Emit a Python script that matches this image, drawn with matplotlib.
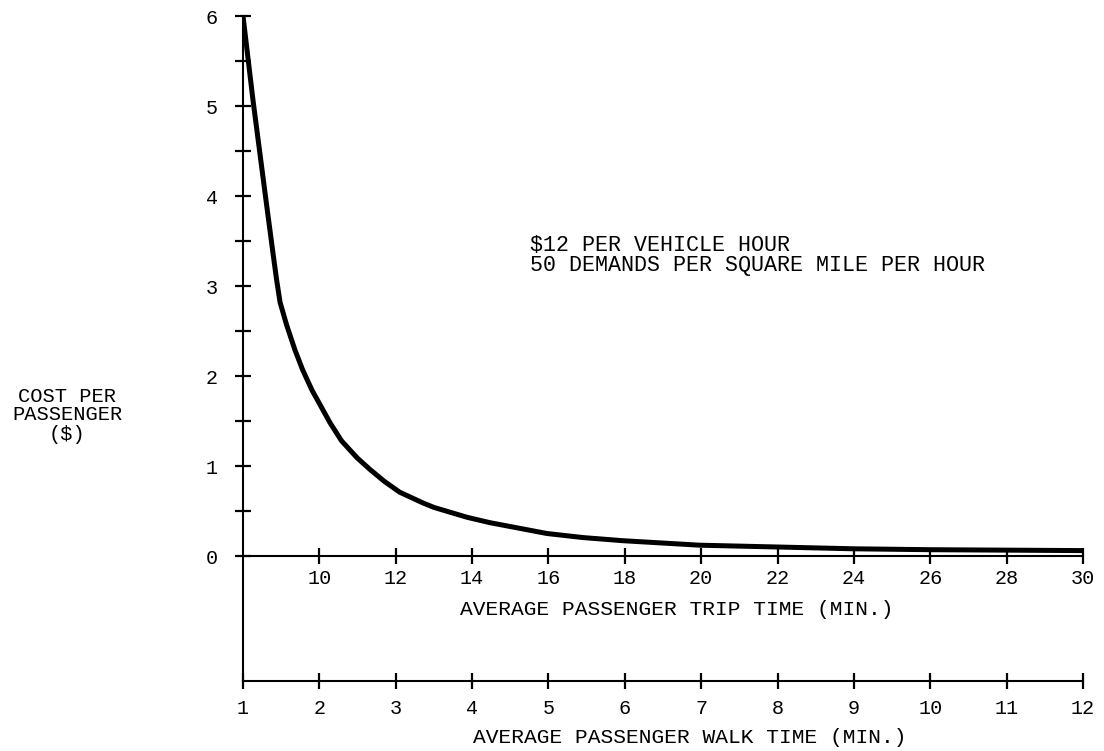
import numpy as np
import matplotlib
matplotlib.use('Agg')
import matplotlib.pyplot as plt

### Cost per passenger against average trip time
trip_time = [8.0, 8.26, 8.60, 8.79, 8.88, 8.97, 9.14, 9.36, 9.56, 9.81, 10.28,
             10.58, 10.99, 11.33, 11.7, 12.1, 12.71, 13.0, 13.87, 14.47,
             15.96, 16.9, 17.95, 19.96, 22.0, 24.0, 26.0, 28.0, 30.0]
cost = [6.0, 5.07, 3.96, 3.35, 3.07, 2.82, 2.57, 2.29, 2.07, 1.84, 1.48,
        1.28, 1.09, 0.96, 0.83, 0.71, 0.59, 0.54, 0.43, 0.37,
        0.25, 0.205, 0.17, 0.12, 0.10, 0.08, 0.07, 0.065, 0.06]

trip_ticks = [10, 12, 14, 16, 18, 20, 22, 24, 26, 28, 30]
walk_ticks = [1, 2, 3, 4, 5, 6, 7, 8, 9, 10, 11, 12]
cost_ticks = [0, 1, 2, 3, 4, 5, 6]
cost_minor = [0.5, 1.5, 2.5, 3.5, 4.5, 5.5]

notes = ['$12 PER VEHICLE HOUR', '50 DEMANDS PER SQUARE MILE PER HOUR']

# walk time and trip time share the same horizontal scale
def trip_to_walk(t):
    return (np.asarray(t) - 6.0) / 2.0

def walk_to_trip(w):
    return 2.0 * np.asarray(w) + 6.0

plt.rcParams['font.family'] = ['Liberation Mono', 'DejaVu Sans Mono']

fig = plt.figure(figsize=(11.04, 7.51), dpi=100)
ax = fig.add_axes([243/1104, 1 - 681/751, 840/1104, 665/751])

ymin = -125/90.0
ax.set_xlim(8, 30)
ax.set_ylim(ymin, 6)

ax.plot(trip_time, cost, color='black', lw=3.6, solid_joinstyle='round',
        solid_capstyle='butt')

### Axes lines
for s in ['top', 'right']:
    ax.spines[s].set_visible(False)
ax.spines['left'].set_bounds(ymin, 6)
ax.spines['left'].set_linewidth(1.5)
ax.spines['bottom'].set_position(('data', 0))
ax.spines['bottom'].set_linewidth(1.5)

ax.set_yticks(cost_ticks)
ax.set_yticks(cost_minor, minor=True)
ax.tick_params(axis='y', which='both', direction='inout', length=12, width=1.6,
               labelsize=14.5, pad=12)
ax.tick_params(axis='y', which='minor', length=11)

ax.set_xticks(trip_ticks)
ax.tick_params(axis='x', direction='inout', length=11, width=1.6,
               labelsize=14.5, pad=4)

sec = ax.secondary_xaxis('bottom', functions=(trip_to_walk, walk_to_trip))
sec.set_xticks(walk_ticks)
sec.spines['bottom'].set_linewidth(1.5)
sec.tick_params(axis='x', direction='inout', length=11, width=1.6,
                labelsize=14.5, pad=7.5)

### Axis titles
ax.set_xlabel('AVERAGE PASSENGER TRIP TIME (MIN.)', fontsize=15.3)
ax.xaxis.set_label_coords(0.5167, 0.122)
sec.set_xlabel('AVERAGE PASSENGER WALK TIME (MIN.)', fontsize=15.3)
sec.xaxis.set_label_coords(0.532, -0.070, transform=ax.transAxes)

ax.set_ylabel('COST PER\nPASSENGER\n($)', fontsize=14.7, rotation=0,
              ha='center', va='center', multialignment='center', linespacing=1.0)
ax.yaxis.set_label_coords(-0.2095, 0.40)

ax.text(15.52, 3.57, '\n'.join(notes), fontsize=15.6, ha='left', va='top',
        linespacing=0.95)

fig.savefig('out.png', dpi=100, facecolor='white')
